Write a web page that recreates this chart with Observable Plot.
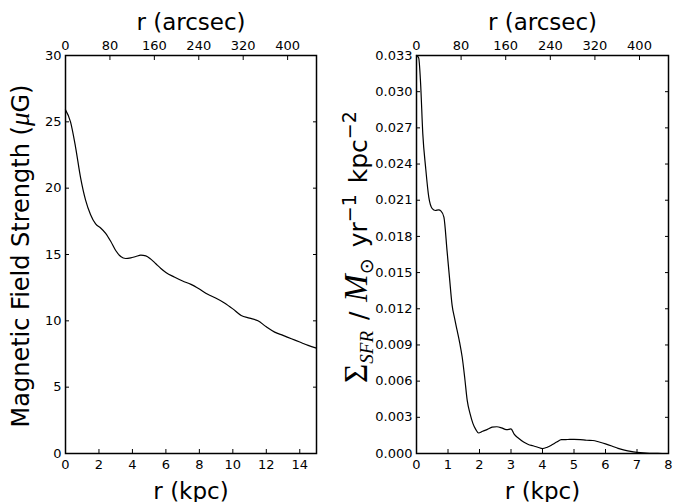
<!DOCTYPE html>
<html><head><meta charset="utf-8">
<script src="https://cdn.jsdelivr.net/npm/d3@7"></script>
<script src="https://cdn.jsdelivr.net/npm/@observablehq/plot@0.6"></script>
<style>
body{margin:0;background:#fff;}
#wrap{display:flex;width:682px;height:502px;}
#wrap svg{display:block;}
[aria-label="x-axis label"]{font-size:23px;}
</style></head><body><div id="wrap"></div>
<script>
// Left panel: magnetic field strength vs radius
const bR = [0,0.3,0.6,0.9,1.2,1.5,1.8,2.1,2.4,2.7,3.0,3.3,3.6,3.9,4.2,4.5,4.8,5.1,5.4,5.7,6.0,6.5,7.0,7.5,8.0,8.5,9.0,9.5,10.0,10.5,11.0,11.5,12.0,12.5,13.0,13.5,14.0,14.5,15];
const bField = [25.9,25.0,23.1,20.8,19.1,18.0,17.3,17.0,16.6,16.0,15.3,14.85,14.7,14.75,14.85,14.95,14.9,14.65,14.3,13.95,13.65,13.3,13.0,12.75,12.4,12.0,11.7,11.35,10.9,10.4,10.2,10.0,9.55,9.15,8.9,8.65,8.4,8.15,7.94];
// Right panel: star formation rate surface density vs radius
const sR = [0,0.07,0.13,0.2,0.29,0.39,0.5,0.6,0.7,0.78,0.87,0.97,1.05,1.13,1.21,1.29,1.37,1.45,1.53,1.61,1.7,1.79,1.88,1.97,2.1,2.25,2.4,2.55,2.7,2.85,2.93,3.0,3.1,3.25,3.4,3.55,3.7,3.85,4.0,4.15,4.3,4.45,4.6,4.8,5.0,5.2,5.4,5.6,5.8,6.0,6.2,6.4,6.6,6.8,7.0,7.2,7.4,7.6,7.8,8.0];
const sfr = [0.0330,0.0328,0.0307,0.0265,0.0237,0.02125,0.0203,0.02015,0.0202,0.0201,0.0196,0.0168,0.0145,0.0123,0.0112,0.0102,0.0092,0.0080,0.0063,0.0044,0.0033,0.0025,0.0020,0.0017,0.00185,0.0020,0.00218,0.00222,0.00213,0.00198,0.00200,0.00205,0.00160,0.00125,0.00095,0.00075,0.00064,0.00052,0.0004,0.00052,0.00072,0.00095,0.00115,0.00116,0.00117,0.00115,0.00110,0.00108,0.00095,0.0008,0.00062,0.00042,0.00028,0.00017,0.0001,0.00005,0.00002,0.00001,0,0];

const kpcTicksLeft = [0,2,4,6,8,10,12,14];
const kpcTicksRight = [0,1,2,3,4,5,6,7,8];
const bTicks = [0,5,10,15,20,25,30];
const sfrTicks = [0,0.003,0.006,0.009,0.012,0.015,0.018,0.021,0.024,0.027,0.030,0.033];
const arcTicks = [0,80,160,240,320,400];
const arcsecSpan = 452; // arcsec range spanned by the top axis across each panel

function panel({ml, mr, xDomain, yDomain, xTicks, yTicks, yFmt, xs, ys}) {
  const k = xDomain[1] / arcsecSpan;
  const data = xs.map((x, i) => ({x, y: ys[i]}));
  return Plot.plot({
    width: 341, height: 502,
    marginLeft: ml, marginRight: mr, marginTop: 55, marginBottom: 49,
    style: {fontFamily: "DejaVu Sans", fontSize: "13px", color: "black", background: "white", overflow: "visible"},
    x: {domain: xDomain},
    y: {domain: yDomain},
    marks: [
      Plot.axisX(xTicks, {anchor: "bottom", tickSize: -4, tickPadding: 10, strokeWidth: 1,
        label: "r (kpc)", labelAnchor: "center", labelArrow: "none", labelOffset: 45}),
      Plot.axisX(arcTicks.map(a => a * k), {anchor: "top", tickSize: -4, tickPadding: 10, strokeWidth: 1,
        tickFormat: d => String(Math.round(d / k)),
        label: "r (arcsec)", labelAnchor: "center", labelArrow: "none", labelOffset: 42}),
      Plot.axisY(yTicks, {anchor: "left", tickSize: -4, tickPadding: 8, strokeWidth: 1, tickFormat: yFmt, label: null}),
      Plot.axisY(yTicks, {anchor: "right", tickSize: -4, strokeWidth: 1, tickFormat: () => "", label: null}),
      Plot.line(data, {x: "x", y: "y", stroke: "black", strokeWidth: 1.2, curve: "monotone-x"}),
      Plot.frame({stroke: "black", strokeWidth: 1.5})
    ]
  });
}

const left = panel({ml: 65, mr: 25, xDomain: [0, 15], yDomain: [0, 30], xTicks: kpcTicksLeft, yTicks: bTicks,
  yFmt: d => String(d), xs: bR, ys: bField});
const right = panel({ml: 75, mr: 14, xDomain: [0, 8], yDomain: [0, 0.033], xTicks: kpcTicksRight, yTicks: sfrTicks,
  yFmt: d3.format(".3f"), xs: sR, ys: sfr});

document.getElementById("wrap").append(left, right);

const serif = "Liberation Serif";

// Left y label
const tl = d3.select(left).append("text")
  .attr("transform", "translate(29,256) rotate(-90)")
  .attr("text-anchor", "middle")
  .attr("font-family", "DejaVu Sans")
  .attr("font-size", 24)
  .attr("fill", "black");
tl.append("tspan").text("Magnetic Field Strength (");
tl.append("tspan").attr("font-family", serif).attr("font-style", "italic").attr("font-size", 27).text("μ");
tl.append("tspan").text("G)");

// Math-style y label for right panel
const t = d3.select(right).append("text")
  .attr("transform", "translate(26,247) rotate(-90)")
  .attr("text-anchor", "middle")
  .attr("font-family", "DejaVu Sans")
  .attr("font-size", 25)
  .attr("fill", "black");
t.append("tspan").attr("font-family", serif).attr("font-size", 33).text("Σ");
t.append("tspan").attr("font-family", serif).attr("font-style", "italic").attr("font-size", 19).attr("dy", 6).text("SFR");
t.append("tspan").attr("dy", -6).attr("dx", 3).text(" / ");
t.append("tspan").attr("font-family", serif).attr("font-style", "italic").attr("font-size", 33).attr("dx", 2).text("M");
t.append("tspan").attr("font-family", "DejaVu Sans").attr("font-size", 19).attr("dy", 6).text("⊙");
t.append("tspan").attr("dy", -6).attr("dx", 3).text(" yr");
t.append("tspan").attr("font-size", 19).attr("dy", -11).text("−1");
t.append("tspan").attr("dy", 11).attr("dx", 3).text(" kpc");
t.append("tspan").attr("font-size", 19).attr("dy", -11).text("−2");
</script>
</body></html>
